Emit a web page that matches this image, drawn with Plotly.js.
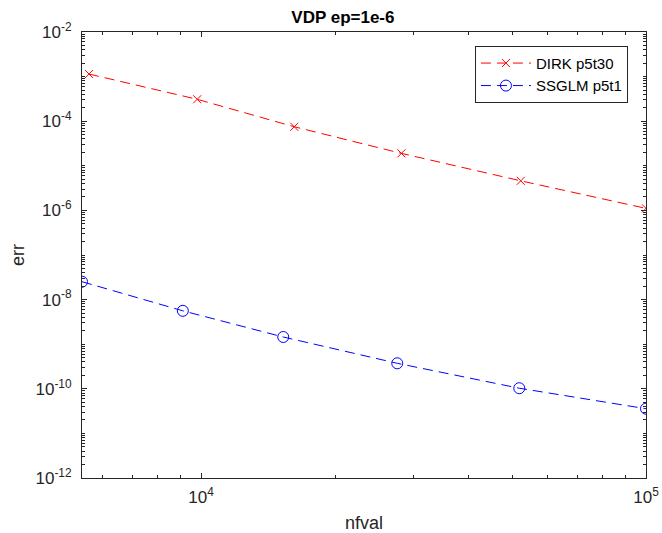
<!DOCTYPE html>
<html>
<head>
<meta charset="utf-8">
<script src="https://cdn.plot.ly/plotly-3.0.1.min.js"></script>
<style>html,body{margin:0;padding:0;background:#fff;}#chart{width:662px;height:533px;}</style>
</head>
<body>
<div id="chart"></div>
<script>
// Data
const dirkName = "DIRK p5t30";
const dirkNfval = [5600, 9800, 16200, 28200, 52300, 100000];
const dirkErr = [1.14e-3, 3.1e-4, 7.5e-5, 1.9e-5, 4.6e-6, 1.11e-6];

const ssglmName = "SSGLM p5t1";
const ssglmNfval = [5400, 9100, 15300, 27600, 51900, 100000];
const ssglmErr = [2.52e-8, 5.6e-9, 1.45e-9, 3.73e-10, 1.03e-10, 3.58e-11];

const xTickVals = [1e4, 1e5];
const xTickText = ["10<sup>4</sup>", "10<sup>5</sup>"];
const yTickVals = [1e-2, 1e-4, 1e-6, 1e-8, 1e-10, 1e-12];
const yTickText = ["10<sup>-2</sup>", "10<sup>-4</sup>", "10<sup>-6</sup>", "10<sup>-8</sup>", "10<sup>-10</sup>", "10<sup>-12</sup>"];

function minorVals(lo, hi) {
  const out = [];
  for (let e = lo; e <= hi; e++) {
    for (let m = 1; m <= 9; m++) out.push(m * Math.pow(10, e));
  }
  return out;
}

const axisColor = "#262626";
const font = "Liberation Sans, Arial, Helvetica, sans-serif";

const traces = [
  {
    x: dirkNfval, y: dirkErr, name: dirkName, type: "scatter", mode: "lines+markers",
    line: {color: "#ff0000", width: 1, dash: "10px,6px"},
    marker: {symbol: "x-thin-open", size: 8, color: "#ff0000", line: {color: "#ff0000", width: 1}}
  },
  {
    x: ssglmNfval, y: ssglmErr, name: ssglmName, type: "scatter", mode: "lines+markers",
    line: {color: "#0000ff", width: 1, dash: "10px,6px"},
    marker: {symbol: "circle-open", size: 11, color: "#0000ff", line: {color: "#0000ff", width: 1}}
  }
];

const layout = {
  width: 662, height: 533,
  margin: {l: 82, r: 16, t: 32, b: 55},
  paper_bgcolor: "#fff", plot_bgcolor: "#fff",
  font: {family: font, size: 17, color: axisColor},
  title: {text: "<b>VDP ep=1e-6</b>", x: 0.518, xanchor: "center", y: 0.968, yanchor: "middle",
          font: {family: font, size: 17, color: "#000"}},
  showlegend: true,
  legend: {x: 0.968, xanchor: "right", y: 0.969, yanchor: "top",
           bgcolor: "#fff", bordercolor: axisColor, borderwidth: 1, itemwidth: 50,
           font: {family: font, size: 15, color: "#000"}, tracegroupgap: 0},
  xaxis: {
    type: "log", range: [Math.log10(5400), 5],
    showgrid: false, zeroline: false,
    showline: true, linecolor: axisColor, linewidth: 1, mirror: "allticks",
    ticks: "inside", ticklen: 5, tickcolor: axisColor,
    tickmode: "array", tickvals: xTickVals, ticktext: xTickText,
    tickfont: {family: font, size: 17, color: axisColor}, ticklabelstandoff: 4,
    minor: {ticks: "inside", ticklen: 3, tickcolor: axisColor, tickmode: "array", tickvals: minorVals(3, 4), showgrid: false},
    title: {text: "nfval", font: {family: font, size: 18, color: axisColor}, standoff: 11}
  },
  yaxis: {
    type: "log", range: [-12, -2],
    showgrid: false, zeroline: false,
    showline: true, linecolor: axisColor, linewidth: 1, mirror: "allticks",
    ticks: "inside", ticklen: 5, tickcolor: axisColor,
    tickmode: "array", tickvals: yTickVals, ticktext: yTickText,
    tickfont: {family: font, size: 17, color: axisColor}, ticklabelstandoff: 6,
    minor: {ticks: "inside", ticklen: 3, tickcolor: axisColor, tickmode: "array", tickvals: minorVals(-12, -3), showgrid: false},
    title: {text: "err", font: {family: font, size: 18, color: axisColor}, standoff: 6}
  }
};

Plotly.newPlot("chart", traces, layout, {displayModeBar: false, staticPlot: true});
</script>
</body>
</html>
